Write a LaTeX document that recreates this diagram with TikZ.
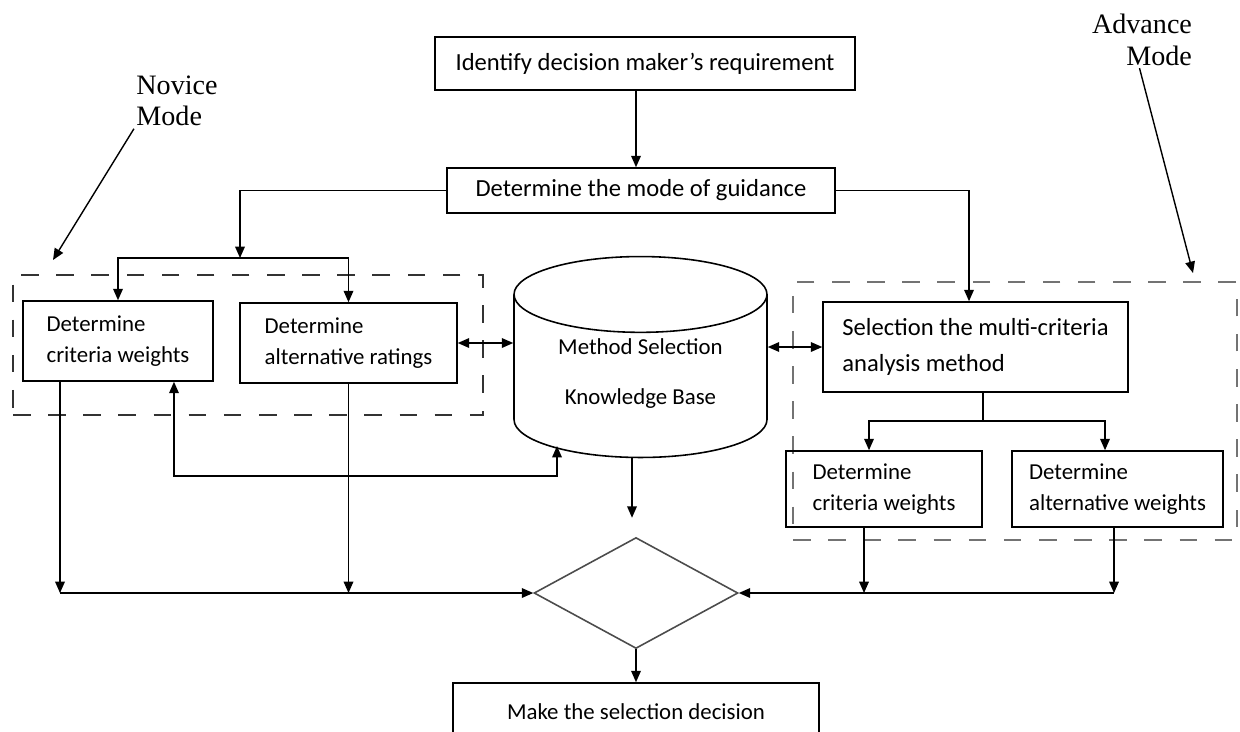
\documentclass[tikz,border=0pt]{standalone}
\usepackage{fontspec}
\setmainfont{Carlito}
\newfontfamily\modefont{Liberation Serif}
\usepackage{tikz}
\usetikzlibrary{arrows,arrows.meta,positioning,shapes,shapes.geometric}

\tikzset{
  box/.style={draw=black!100,rectangle,line width=0.9pt,align=left,inner sep=0pt,
              font=\fontsize{13}{18}\selectfont},
  bigbox/.style={box,font=\fontsize{14}{19}\selectfont},
  dashbox/.style={rectangle,inner sep=0pt,line width=0.9pt,dash pattern=on 10pt off 10pt},
  modelabel/.style={font=\modefont\fontsize{16}{18}\selectfont,inner sep=1pt}
}

\begin{document}
\begin{tikzpicture}[>={Triangle[length=6.5pt,width=5.5pt]},x=0.02cm,y=-0.02cm,line width=0.8pt]
\useasboundingbox (0,0) rectangle (1240,731);
% top of the flow
\node[bigbox,minimum width=8.4cm,minimum height=1.06cm] at (645,63.5) (req)
      {Identify decision maker's requirement};
\node[bigbox,minimum width=7.76cm,minimum height=0.9cm] at (641,190.5) (mode)
      {Determine the mode of guidance};
% novice side
\node[dashbox,draw=black!80,minimum width=9.4cm,minimum height=2.8cm] at (248,345) (novicebox) {};
\node[box,minimum width=3.8cm,minimum height=1.6cm] at (118,341) (ncw)
      {Determine\\criteria weights};
\node[box,minimum width=4.34cm,minimum height=1.6cm] at (348.5,343) (nar)
      {Determine\\alternative ratings};
% knowledge base
\node[draw,cylinder,shape border rotate=90,aspect=0.43,line width=0.9pt,anchor=shape center,
      minimum width=5.06cm,minimum height=3.4cm,align=center,
      font=\fontsize{13}{18}\selectfont] at (640.5,357) (kb)
      {Method Selection\\[10pt]Knowledge Base\\[-6pt]\mbox{}};
% advance side
\node[dashbox,draw=black!55,minimum width=8.88cm,minimum height=5.16cm] at (1015,411) (advancebox) {};
\node[bigbox,minimum width=6.1cm,minimum height=1.8cm] at (975.5,347) (sel)
      {Selection the multi-criteria\\[1pt]analysis method};
\node[box,minimum width=3.92cm,minimum height=1.52cm] at (884,489) (rcw)
      {Determine\\criteria weights};
\node[box,minimum width=4.22cm,minimum height=1.52cm] at (1117.5,489) (raw)
      {Determine\\alternative weights};
% decision
\node[draw=black!70,diamond,aspect=1.84,inner sep=0pt,line width=0.9pt,
      minimum width=4.08cm,minimum height=2.22cm] at (636,593) (dec) {};
\node[box,minimum width=7.32cm,minimum height=1.16cm] at (636,712) (make)
      {Make the selection decision};
% mode labels
\node[modelabel,align=left] at (177,101) (novice) {Novice\\Mode};
\node[modelabel,align=right] at (1142,40) (advance) {Advance\\Mode};
\coordinate (novicetip) at (53,260);
\coordinate (advancetip) at (1193,273);
\draw[->] (novice.south west) -- (novicetip);
\draw[->] ([xshift=-0.05cm]advance.south) -- (advancetip);
% connectors
\coordinate (nsplit) at (240,258);
\coordinate (asplit) at (983,421);
\coordinate (lbus) at (60,593);
\coordinate (rcwbus) at (864,593);
\coordinate (rbus) at (1114,593);
\coordinate (kbfoot) at (557,446);
\coordinate (fb) at (557,476);
\draw[->] (req.south -| dec) -- (mode.north -| dec);
\draw[->] (mode.west) -| (nsplit);
\draw[->] (nsplit) -| (ncw.north);
\draw[->] (nsplit) -| (nar.north);
\draw[->] (mode.east) -| ([xshift=-0.13cm]sel.north);
\draw[<->] (nar.east) -- (nar.east -| kb.west);
\draw[<->] (kb.east |- sel.west) -- (sel.west);
\draw (sel.south -| asplit) -- (asplit);
\draw[->] (asplit) -| ([xshift=-0.3cm]rcw.north);
\draw[->] (asplit) -| ([xshift=-0.25cm]raw.north);
\draw[<->] ([xshift=1.12cm]ncw.south) |- (fb) -- (kbfoot);
\draw[->] (ncw.south -| lbus) -- (lbus);
\draw[->] (nar.south) -- (nar.south |- lbus);
\draw[->] (lbus) -- (dec.west);
\draw[->] (rcw.south -| rcwbus) -- (rcwbus);
\draw[->] (raw.south -| rbus) -- (rbus);
\draw[->] (rbus) -- (dec.east);
\draw[->,shorten >=0.38cm] ([xshift=-0.17cm]kb.south) -- ([xshift=-0.17cm]kb.south |- dec.north);
\draw[->] (dec.south) -- (make.north);
\end{tikzpicture}
\end{document}
